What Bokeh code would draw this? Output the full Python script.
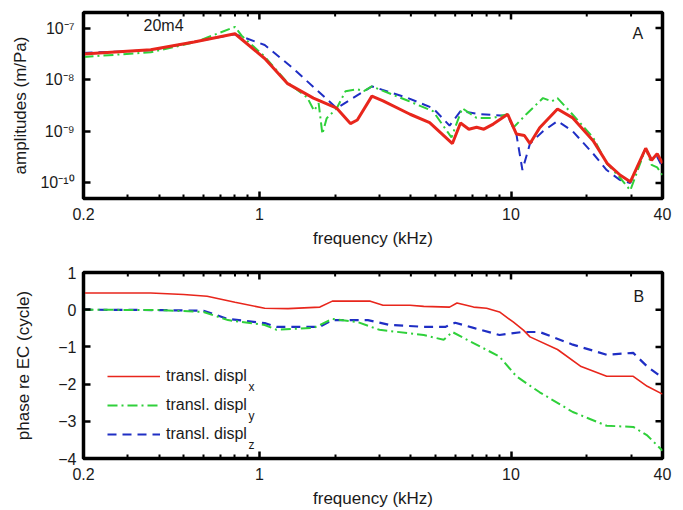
import math
from bokeh.plotting import figure
from bokeh.layouts import column
from bokeh.models import (Range1d, FixedTicker, CustomJSTickFormatter, Legend, LegendItem, Label)
from bokeh.embed import file_html
from bokeh.resources import INLINE

# ---------------- data ----------------
amp_x_f = [0.2, 0.37, 0.55, 0.80, 1.05, 1.29, 1.64, 2.03, 2.3, 2.45, 2.8, 3.1, 3.97, 4.75, 5.85, 6.3,
           6.8, 7.3, 7.8, 8.5, 9.7, 10.5, 11.3, 11.9, 13.0, 15.3, 17.6, 21.2, 24.1, 27.2, 29.8, 34.3,
           36.2, 38.1, 40]
amp_x = [3.16e-8, 3.8e-8, 5.37e-8, 7.76e-8, 2.57e-8, 8.5e-9, 4.4e-9, 2.8e-9, 1.41e-9, 1.66e-9, 4.8e-9,
         3.9e-9, 2.14e-9, 1.48e-9, 5.8e-10, 1.45e-9, 1.1e-9, 1.2e-9, 1.1e-9, 1.38e-9, 2.14e-9, 8.9e-10,
         8.3e-10, 5.8e-10, 1.17e-9, 2.7e-9, 1.82e-9, 6.6e-10, 2.4e-10, 1.41e-10, 1.05e-10, 4.7e-10,
         2.75e-10, 3.7e-10, 2.4e-10]

amp_y_f = [0.2, 0.37, 0.55, 0.80, 0.85, 1.05, 1.29, 1.55, 1.65, 1.72, 1.78, 1.85, 2.03, 2.2, 2.45, 2.6,
           2.8, 3.9, 4.9, 5.8, 6.4, 7.3, 8.5, 9.7, 10.2, 11.5, 13.4, 14.5, 15.3, 17.1, 21.2, 24, 27,
           29.8, 34.3, 36.2, 38.1, 40]
amp_y = [2.75e-8, 3.4e-8, 5.25e-8, 1.05e-7, 7.1e-8, 2.8e-8, 8.9e-9, 4.5e-9, 2.5e-9, 3.5e-9, 8.9e-10,
         1.78e-9, 2.8e-9, 6.0e-9, 6.5e-9, 6.0e-9, 7.4e-9, 3.9e-9, 2.45e-9, 7.6e-10, 2.8e-9, 1.82e-9,
         1.82e-9, 2.14e-9, 1.17e-9, 2.14e-9, 4.4e-9, 3.8e-9, 4.4e-9, 2.45e-9, 7.6e-10, 2.4e-10,
         1.29e-10, 7.2e-11, 4.7e-10, 2.24e-10, 2.0e-10, 1.41e-10]

amp_z_f = [0.2, 0.37, 0.55, 0.80, 1.05, 1.36, 2.03, 2.35, 2.8, 3.9, 4.9, 5.7, 6.3, 7.6, 9.7, 10.5, 11.1,
           11.9, 13.4, 15.3, 17.6, 21.2, 24, 27, 29.8, 34.3, 36.2, 38.1, 40]
amp_z = [3.3e-8, 3.7e-8, 5.4e-8, 7.6e-8, 4.7e-8, 1.66e-8, 2.8e-9, 4.4e-9, 7.4e-9, 4.4e-9, 2.8e-9,
         1.29e-9, 2.45e-9, 2.14e-9, 2.0e-9, 8.9e-10, 1.78e-10, 5.8e-10, 1.0e-9, 1.58e-9, 1.0e-9,
         3.7e-10, 1.78e-10, 1.15e-10, 1.0e-10, 4.7e-10, 2.8e-10, 3.2e-10, 2.0e-10]

ph_x_f = [0.2, 0.37, 0.5, 0.62, 0.8, 1.05, 1.3, 1.74, 1.95, 2.76, 3.1, 3.97, 4.5, 5.7, 6.1, 7.1, 8.0,
          9.0, 10.2, 11.2, 11.9, 15.3, 19.0, 24, 30.6, 34.8, 40]
ph_x = [0.45, 0.45, 0.41, 0.36, 0.2, 0.04, 0.03, 0.07, 0.23, 0.23, 0.12, 0.12, 0.09, 0.07, 0.18, 0.07,
        0.04, -0.06, -0.33, -0.55, -0.73, -1.07, -1.53, -1.79, -1.79, -2.06, -2.27]

ph_y_f = [0.2, 0.4, 0.6, 0.75, 1.05, 1.17, 1.64, 1.95, 2.45, 3.0, 4.5, 5.4, 5.85, 6.7, 9.0, 10.5, 13.0,
          17.6, 24, 30.6, 34.8, 40]
ph_y = [0.0, -0.01, -0.06, -0.28, -0.41, -0.54, -0.49, -0.25, -0.33, -0.54, -0.68, -0.81, -0.60, -0.81,
        -1.26, -1.79, -2.22, -2.75, -3.12, -3.15, -3.38, -3.79]

ph_z_f = [0.2, 0.4, 0.6, 0.75, 1.05, 1.17, 1.74, 1.95, 2.7, 3.3, 4.5, 5.5, 6.0, 7.1, 9.0, 11.1, 13.0,
          17.6, 24, 30.6, 34.8, 40]
ph_z = [0.0, -0.01, -0.03, -0.25, -0.36, -0.46, -0.46, -0.28, -0.28, -0.41, -0.46, -0.46, -0.35, -0.49,
        -0.68, -0.60, -0.60, -0.94, -1.21, -1.16, -1.53, -1.83]

x_ticks = [0.2, 1, 10, 40]
x_minor = [0.3, 0.4, 0.5, 0.6, 0.7, 0.8, 0.9, 2, 3, 4, 5, 6, 7, 8, 9, 20, 30]
amp_ticks = [1e-10, 1e-9, 1e-8, 1e-7]
ph_ticks = [-4, -3, -2, -1, 0, 1]
legend_labels = ["transl. displ", "transl. displ", "transl. displ"]
legend_subs = ["x", "y", "z"]

X_START, X_END = 0.2, 40
AMP_START, AMP_END = 5e-11, 2e-7
PH_START, PH_END = -4, 1

FONT = "Liberation Sans"
RED = "#e8261c"
GREEN = "#2fd03a"
BLUE = "#1f2ec4"
INK = "#1a1a1a"

x_fmt = CustomJSTickFormatter(code="return String(tick);")
log_fmt = CustomJSTickFormatter(code="""
const sup = {'-':'\u207b','0':'\u2070','1':'\u00b9','2':'\u00b2','3':'\u00b3','4':'\u2074',
             '5':'\u2075','6':'\u2076','7':'\u2077','8':'\u2078','9':'\u2079'};
const e = Math.round(Math.log10(tick));
return '10' + String(e).split('').map(c => sup[c]).join('');
""")
lin_fmt = CustomJSTickFormatter(code="return tick < 0 ? '\u2212' + String(-tick) : String(tick);")


def style_axis(ax):
    ax.axis_line_width = 3
    ax.axis_line_color = "black"
    ax.major_tick_in = 7
    ax.major_tick_out = 0
    ax.major_tick_line_width = 2.5
    ax.major_tick_line_color = "black"
    ax.minor_tick_in = 4
    ax.minor_tick_out = 0
    ax.minor_tick_line_width = 2
    ax.minor_tick_line_color = "black"
    ax.major_label_text_font = FONT
    ax.major_label_text_font_size = "16px"
    ax.major_label_text_color = INK
    ax.axis_label_text_font = FONT
    ax.axis_label_text_font_size = "17px"
    ax.axis_label_text_font_style = "normal"
    ax.axis_label_text_color = INK


def add_ticks(p, y_ticks, y_start, y_end):
    # inward tick marks on the top and right sides (glyphs are clipped to the frame)
    p.scatter(x_ticks, [y_end] * len(x_ticks), marker="dash", angle=math.pi / 2, size=14,
              line_color="black", line_width=2.5)
    p.scatter(x_minor, [y_end] * len(x_minor), marker="dash", angle=math.pi / 2, size=8,
              line_color="black", line_width=2)
    p.scatter([X_END] * len(y_ticks), y_ticks, marker="dash", size=14,
              line_color="black", line_width=2.5)


def make_fig(height, top, bottom, y_type, y_range):
    p = figure(width=683, height=height, x_axis_type="log", y_axis_type=y_type,
               x_range=Range1d(X_START, X_END), y_range=y_range,
               output_backend="svg", toolbar_location=None,
               min_border_left=83, min_border_right=21, min_border_top=top, min_border_bottom=bottom)
    p.xgrid.visible = False
    p.ygrid.visible = False
    p.outline_line_color = "black"
    p.outline_line_width = 3.5
    p.outline_line_alpha = 1
    p.xaxis.ticker = FixedTicker(ticks=x_ticks, minor_ticks=x_minor)
    p.xaxis.formatter = x_fmt
    p.xaxis.axis_label = "frequency (kHz)"
    p.xaxis.major_label_standoff = 9
    p.xaxis.axis_label_standoff = 6
    for ax in p.xaxis:
        style_axis(ax)
    return p


# ---------------- panel A ----------------
p1 = make_fig(255, 12, 57, "log", Range1d(AMP_START, AMP_END))
p1.yaxis.ticker = FixedTicker(ticks=amp_ticks, minor_ticks=[])
p1.yaxis.formatter = log_fmt
p1.yaxis.axis_label = "amplitudes (m/Pa)"
p1.yaxis.major_label_standoff = 9
p1.yaxis.axis_label_standoff = 7
for ax in p1.yaxis:
    style_axis(ax)

p1.line(amp_z_f, amp_z, line_color=BLUE, line_width=2, line_dash="9 6")
p1.line(amp_y_f, amp_y, line_color=GREEN, line_width=2, line_dash="10 4 2 4")
p1.line(amp_x_f, amp_x, line_color=RED, line_width=3)
add_ticks(p1, amp_ticks, AMP_START, AMP_END)

p1.add_layout(Label(x=60, y=173, x_units="screen", y_units="screen", text="20m4",
                    text_font=FONT, text_font_size="16px", text_baseline="middle", text_color=INK))
p1.add_layout(Label(x=549, y=165, x_units="screen", y_units="screen", text="A",
                    text_font=FONT, text_font_size="16px", text_baseline="middle", text_color=INK))

# ---------------- panel B ----------------
p2 = make_fig(255, 17, 50, "linear", Range1d(PH_START, PH_END))
p2.yaxis.ticker = FixedTicker(ticks=ph_ticks, minor_ticks=[])
p2.yaxis.formatter = lin_fmt
p2.yaxis.axis_label = "phase re EC (cycle)"
p2.yaxis.major_label_standoff = 7
p2.yaxis.axis_label_standoff = 22
for ax in p2.yaxis:
    style_axis(ax)

lz = p2.line(ph_z_f, ph_z, line_color=BLUE, line_width=2.2, line_dash="9 6")
ly = p2.line(ph_y_f, ph_y, line_color=GREEN, line_width=2, line_dash="10 4 2 4")
lx = p2.line(ph_x_f, ph_x, line_color=RED, line_width=1.6)
add_ticks(p2, ph_ticks, PH_START, PH_END)

legend = Legend(items=[LegendItem(label=legend_labels[0], renderers=[lx]),
                       LegendItem(label=legend_labels[1], renderers=[ly]),
                       LegendItem(label=legend_labels[2], renderers=[lz])],
                location=(24, 14), padding=0, margin=0, spacing=9,
                glyph_width=53, glyph_height=20, label_height=20, label_standoff=6,
                label_text_font=FONT, label_text_font_size="16px", label_text_color=INK,
                border_line_alpha=0, background_fill_alpha=0)
p2.add_layout(legend, "center")

for i, sy in enumerate([72, 43, 14]):
    p2.add_layout(Label(x=165, y=sy, x_units="screen", y_units="screen", text=legend_subs[i],
                        text_font=FONT, text_font_size="12px", text_baseline="middle",
                        text_color=INK))

p2.add_layout(Label(x=550, y=162, x_units="screen", y_units="screen", text="B",
                    text_font=FONT, text_font_size="16px", text_baseline="middle", text_color=INK))

layout = column(p1, p2, spacing=0)
open("out.html", "w").write(file_html(layout, INLINE))
